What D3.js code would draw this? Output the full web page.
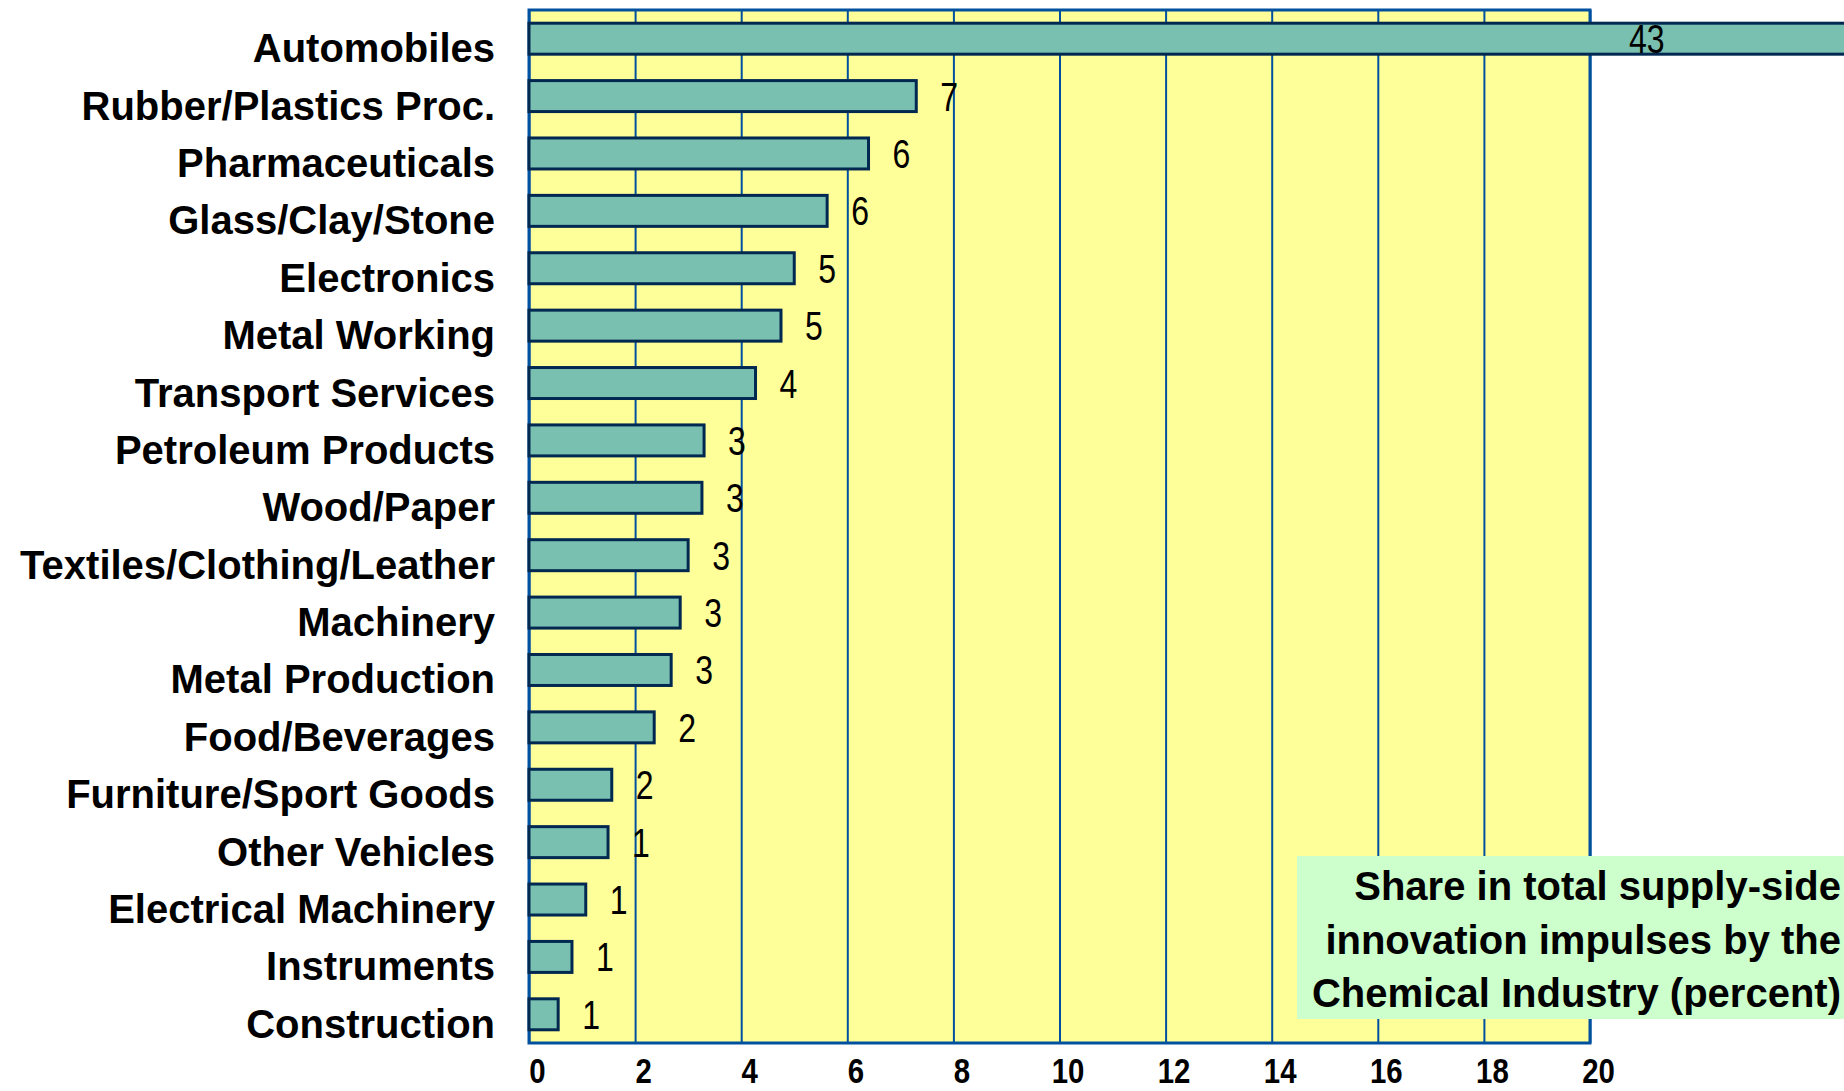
<!DOCTYPE html>
<html>
<head>
<meta charset="utf-8">
<script src="https://cdn.jsdelivr.net/npm/d3@7"></script>
<style>
	body { margin: 0; background: #ffffff; }
	svg { display: block; font-family: "Liberation Sans", Arial, sans-serif; }
</style>
</head>
<body>
<svg id="chart" width="1844" height="1091"></svg>
<script>
// industries, top to bottom
var categories = [
	"Automobiles", "Rubber/Plastics Proc.", "Pharmaceuticals", "Glass/Clay/Stone",
	"Electronics", "Metal Working", "Transport Services", "Petroleum Products",
	"Wood/Paper", "Textiles/Clothing/Leather", "Machinery", "Metal Production",
	"Food/Beverages", "Furniture/Sport Goods", "Other Vehicles", "Electrical Machinery",
	"Instruments", "Construction"
];

// bar lengths as drawn (percent)
var barValues = [43, 7.3, 6.4, 5.62, 5.0, 4.75, 4.27, 3.3, 3.26, 3.0, 2.85, 2.68, 2.36, 1.56, 1.49, 1.07, 0.81, 0.55];

// numbers printed next to the bars
var valueLabels = [43, 7, 6, 6, 5, 5, 4, 3, 3, 3, 3, 3, 2, 2, 1, 1, 1, 1];

var xTicks = [0, 2, 4, 6, 8, 10, 12, 14, 16, 18, 20];

var noteLines = [
	"Share in total supply-side",
	"innovation impulses by the",
	"Chemical Industry (percent)"
];

(function ()
{
	var svg = d3.select('#chart');

	var left = 529, right = 1590, top = 10, bottom = 1043;

	var x = d3.scaleLinear()
		.domain([0, 20])
		.range([left, right]);

	var y = d3.scaleBand()
		.domain(categories)
		.range([top, bottom])
		.paddingInner(0.46)
		.paddingOuter(0.23);

	// yellow plot area
	svg.append('rect')
		.attr('x', left)
		.attr('y', top)
		.attr('width', right - left)
		.attr('height', bottom - top)
		.attr('fill', '#ffff99');

	// gridlines + tick labels
	var axis = svg.append('g')
		.attr('transform', 'translate(0,' + bottom + ')')
		.call(d3.axisBottom(x).tickValues(xTicks).tickSize(-(bottom - top)).tickSizeOuter(0));

	axis.select('.domain').remove();
	axis.selectAll('.tick line')
		.attr('stroke', '#0050a0')
		.attr('stroke-width', 2);
	axis.selectAll('.tick text')
		.attr('y', 0)
		.attr('dy', 0)
		.attr('transform', 'translate(8,40) scale(0.84,1)')
		.attr('font-size', 35)
		.attr('font-weight', 'bold')
		.attr('font-family', '"Liberation Sans", Arial, sans-serif')
		.attr('fill', '#000');

	// plot frame
	svg.append('rect')
		.attr('x', left)
		.attr('y', top)
		.attr('width', right - left)
		.attr('height', bottom - top)
		.attr('fill', 'none')
		.attr('stroke', '#0050a0')
		.attr('stroke-width', 3);

	// bars
	svg.append('g')
		.selectAll('rect')
		.data(categories)
		.join('rect')
		.attr('x', x(0))
		.attr('y', function (d) { return y(d); })
		.attr('width', function (d, i) { return x(barValues[i]) - x(0); })
		.attr('height', y.bandwidth())
		.attr('fill', '#79c0b0')
		.attr('stroke', '#002850')
		.attr('stroke-width', 3);

	// value labels (the 43 sits inside its clipped bar)
	svg.append('g')
		.selectAll('text')
		.data(categories)
		.join('text')
		.attr('transform', function (d, i)
		{
			var lx = i === 0 ? x.range()[1] + 39 : x(barValues[i]) + 24;
			var ly = y(d) + y.bandwidth() / 2 + 14.5;
			return 'translate(' + lx + ',' + ly + ') scale(0.8,1)';
		})
		.attr('font-size', 40)
		.attr('fill', '#000')
		.text(function (d, i) { return valueLabels[i]; });

	// category labels
	svg.append('g')
		.selectAll('text')
		.data(categories)
		.join('text')
		.attr('x', 495)
		.attr('y', function (d) { return y(d) + y.bandwidth() / 2 + 23.5; })
		.attr('text-anchor', 'end')
		.attr('font-size', 40)
		.attr('font-weight', 'bold')
		.attr('fill', '#000')
		.text(function (d) { return d; });

	// green note box
	svg.append('rect')
		.attr('x', 1297)
		.attr('y', 856)
		.attr('width', 1844 - 1297)
		.attr('height', 163)
		.attr('fill', '#ccffcc');

	svg.append('g')
		.selectAll('text')
		.data(noteLines)
		.join('text')
		.attr('x', 1841)
		.attr('y', function (d, i) { return 900 + i * 53.5; })
		.attr('text-anchor', 'end')
		.attr('font-size', 40)
		.attr('font-weight', 'bold')
		.attr('fill', '#000')
		.text(function (d) { return d; });
}());
</script>
</body>
</html>
